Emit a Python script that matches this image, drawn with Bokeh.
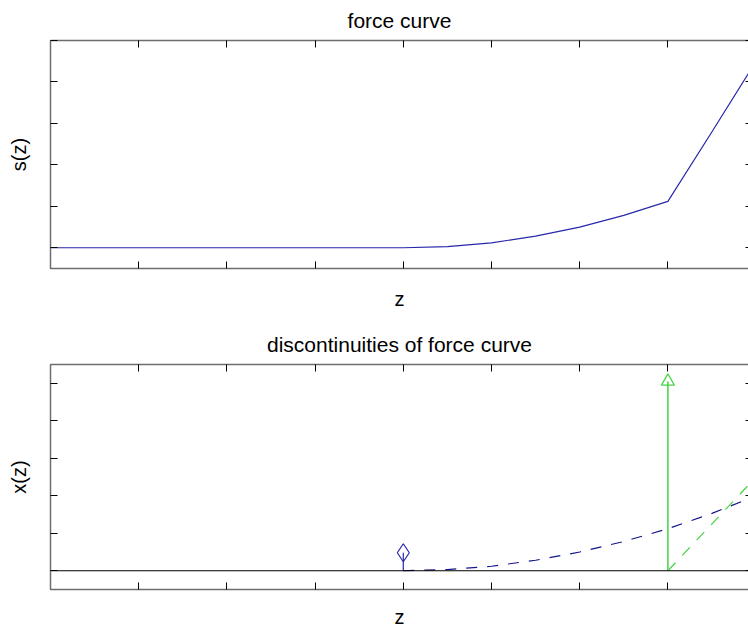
from bokeh.plotting import figure
from bokeh.layouts import column
from bokeh.models import Range1d, LinearAxis, FixedTicker, Span
from bokeh.embed import file_html
from bokeh.resources import INLINE

# ---- data ----
z_ticks = [0, 1, 2, 3, 4, 5, 6, 7, 8]
s_ticks = [0, 1, 2, 3, 4, 5]
x_ticks = [0, 1, 2, 3, 4, 5]

# force curve s(z)
z_force = [0, 4, 4.5, 5, 5.5, 6, 6.5, 7, 7.5, 8]
s_force = [0, 0, 0.03, 0.12, 0.28, 0.50, 0.78, 1.12, 2.80, 4.50]

# continuous part of the discontinuity plot (blue dashed)
z_cont = [4, 4.5, 5, 5.5, 6, 6.5, 7, 7.5, 8]
x_cont = [0, 0.03, 0.12, 0.28, 0.50, 0.78, 1.12, 1.53, 2.00]

# kink branch (green dashed)
z_kink = [7, 8]
x_kink = [0, 2.50]

# stems
z_stem_blue = [4]
h_stem_blue = [0.48]
z_stem_green = [7]
h_stem_green = [5.05]

FONT = "Liberation Sans"
BLUE = "#2727ac"
DBLUE = "#14148c"
GREEN = "#44d444"
BORDER = "#6e6e6e"


def style_axis(ax, ticks, tick_len=7, line=True):
    ax.ticker = FixedTicker(ticks=ticks)
    ax.major_label_overrides = {t: "" for t in ticks}
    ax.major_tick_in = tick_len
    ax.major_tick_out = 0
    ax.minor_tick_line_color = None
    ax.major_label_text_font_size = "1px"
    ax.major_label_text_color = None
    ax.major_label_standoff = 0
    ax.major_tick_line_color = "black"
    ax.major_tick_line_width = 1
    ax.axis_line_color = BORDER if line else None
    ax.axis_line_width = 1.5
    ax.axis_label_text_font = FONT
    ax.axis_label_text_font_size = "20px"
    ax.axis_label_text_font_style = "normal"
    ax.axis_label_text_color = "black"


def make_fig(title, ylabel, yr, yticks, h, top, bottom, xstand, tstand, tvalign):
    p = figure(width=748, height=h, x_range=Range1d(0, 7.914), y_range=yr,
               output_backend="svg", toolbar_location=None,
               title=title, x_axis_label="z", y_axis_label=ylabel,
               min_border_left=50, min_border_right=0,
               min_border_top=top, min_border_bottom=bottom)
    p.outline_line_color = None
    p.grid.visible = False
    p.background_fill_color = "white"
    p.border_fill_color = "white"
    p.title.text_font = FONT
    p.title.text_font_size = "21px"
    p.title.text_font_style = "normal"
    p.title.text_color = "black"
    p.title.align = "center"
    p.title.vertical_align = tvalign
    p.title.standoff = tstand
    style_axis(p.xaxis[0], z_ticks)
    style_axis(p.yaxis[0], yticks)
    p.xaxis[0].axis_label_standoff = xstand
    p.yaxis[0].axis_label_standoff = 21
    top_ax = LinearAxis()
    style_axis(top_ax, z_ticks)
    p.add_layout(top_ax, "above")
    right_ax = LinearAxis()
    style_axis(right_ax, yticks, tick_len=3, line=False)
    p.add_layout(right_ax, "right")
    return p


p1 = make_fig("force curve", "s(z)", Range1d(-0.5, 5.0), s_ticks, 318, 40, 50, 19, 14, "top")
p1.line(z_force, s_force, line_color=BLUE, line_width=1.2)

p2 = make_fig("discontinuities of force curve", "x(z)", Range1d(-0.5, 5.5), x_ticks, 312, 46, 38, 16, 18, "bottom")
p2.add_layout(Span(location=0, dimension="width", line_color="black", line_width=1.2))
p2.line(z_cont, x_cont, line_color=DBLUE, line_width=1.2, line_dash="11 10")
p2.line(z_kink, x_kink, line_color=GREEN, line_width=1.2, line_dash="11 10")
p2.segment(x0=z_stem_blue, y0=[0], x1=z_stem_blue, y1=h_stem_blue, line_color=BLUE, line_width=1.2)
p2.scatter(z_stem_blue, h_stem_blue, marker="diamond", size=18, fill_color=None,
           line_color=BLUE, line_width=1.2)
p2.segment(x0=z_stem_green, y0=[0], x1=z_stem_green, y1=h_stem_green, line_color=GREEN, line_width=1.5)
p2.scatter(z_stem_green, h_stem_green, marker="triangle", size=13, fill_color=None,
           line_color=GREEN, line_width=1.2)

layout = column(p1, p2, spacing=0)
open("out.html", "w").write(file_html(layout, INLINE))
